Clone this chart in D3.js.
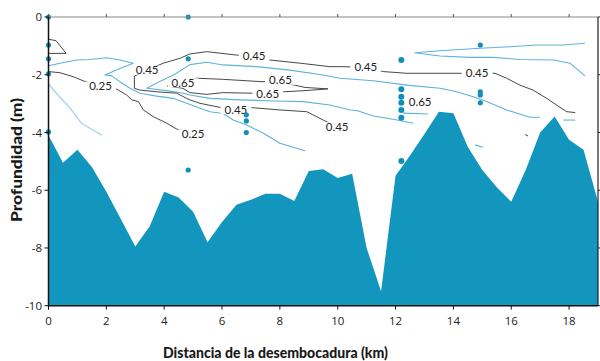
<!DOCTYPE html>
<html><head><meta charset="utf-8">
<script src="https://cdn.jsdelivr.net/npm/d3@7"></script>
<style>body{margin:0;background:#fff}svg{display:block}</style>
</head><body>
<svg id="c" width="600" height="361"></svg>
<script>
// ---------- data ----------
const xTicks = [0,2,4,6,8,10,12,14,16,18];
const yTicks = [0,-2,-4,-6,-8,-10];
const xTitle = "Distancia de la desembocadura (km)";
const yTitle = "Profundidad (m)";

const bathyX = [0,0.5,1,1.5,2,2.5,3,3.5,4,4.5,5,5.5,6,6.5,7,7.5,8,8.5,9,9.5,10,10.5,11,11.5,12,12.5,13,13.5,14,14.5,15,15.5,16,16.5,17,17.5,18,18.5,19];
const bathyDepth = [-4.1,-5.05,-4.6,-5.2,-6.05,-7.0,-7.95,-7.25,-6.05,-6.25,-6.75,-7.8,-7.1,-6.5,-6.33,-6.12,-6.12,-6.37,-5.33,-5.27,-5.58,-5.43,-8.0,-9.5,-5.5,-4.8,-4.05,-3.28,-3.33,-4.5,-5.3,-5.9,-6.4,-5.3,-4.0,-3.45,-4.25,-4.6,-6.4];

const stationX = [0, 4.83, 6.84, 12.2, 14.93];
const stationDepths = [
  [0,-0.97,-1.45,-1.97,-3.98],
  [0,-1.45,-5.3],
  [-3.39,-3.6,-4.0],
  [-1.49,-2.5,-2.76,-2.97,-3.22,-3.49,-4.99],
  [-0.97,-2.59,-2.7,-2.97]
];

// black contours (labelled)
const contourSurface = [[0,-0.77],[0.26,-0.82],[0.61,-1.26],[0,-1.26]];
const contour025 = [[0,-1.89],[0.40,-1.93],[0.86,-2.07],[1.20,-2.21],[1.80,-2.39],[2.36,-2.50],[2.70,-2.70],[2.88,-2.87],[3.11,-2.93],[3.28,-3.22],[3.62,-3.45],[4.09,-3.68],[4.43,-3.88],[5.0,-4.05]];
const contour045 = [[18.21,-3.31],[17.92,-3.28],[17.57,-3.05],[17.23,-2.82],[16.75,-2.53],[16.30,-2.36],[15.84,-2.12],[15.44,-1.95],[14.82,-1.95],[14.29,-1.95],[12.39,-1.95],[11.57,-1.89],[10.97,-1.74],[10.08,-1.72],[9.73,-1.72],[8.70,-1.60],[7.66,-1.49],[7.11,-1.35],[6.51,-1.32],[5.47,-1.20],[4.89,-1.28],[4.55,-1.43],[3.97,-1.60],[3.41,-1.84],[2.97,-2.05],[2.97,-2.47],[3.16,-2.53],[3.74,-2.59],[4.43,-2.64],[4.78,-2.82],[4.89,-2.87],[5.24,-2.99],[5.93,-3.13],[6.48,-3.20],[7.03,-3.14],[8.00,-3.22],[8.93,-3.28],[9.50,-3.57],[9.98,-3.80]];
const contour065 = [[4.10,-2.39],[4.65,-2.28],[5.12,-2.12],[6.04,-2.16],[7.38,-2.24],[7.97,-2.24],[8.87,-2.44],[9.66,-2.49],[8.87,-2.55],[7.62,-2.62],[7.08,-2.64],[6.04,-2.62],[5.47,-2.68],[4.89,-2.62],[4.65,-2.47],[4.10,-2.39]];
const blackSpeck = [[16.48,-4.07],[16.58,-4.12]];

// blue contours (unlabelled)
const blue035 = [[0,-1.69],[0.40,-1.60],[0.98,-1.49],[1.43,-1.47],[2.01,-1.41],[2.47,-1.49],[2.93,-1.60],[2.47,-1.78],[1.95,-2.01],[2.19,-2.04],[2.47,-2.24],[2.82,-2.47],[3.16,-2.64],[3.74,-2.74],[4.32,-2.82],[4.78,-2.99],[5.24,-3.16],[5.58,-3.28],[6.04,-3.34],[6.39,-3.57],[6.85,-3.74],[7.43,-4.03],[8.00,-4.37],[8.87,-4.63]];
const blue055 = [[16.99,-3.47],[16.65,-3.47],[15.84,-3.22],[15.15,-2.93],[14.69,-2.76],[14.11,-2.59],[13.54,-2.47],[12.39,-2.36],[11.23,-2.21],[10.08,-2.12],[9.50,-2.01],[8.35,-1.84],[7.20,-1.72],[6.04,-1.66],[5.47,-1.57],[4.89,-1.65],[4.37,-1.98],[3.85,-2.23],[3.40,-2.47],[4.09,-2.55],[4.66,-2.64],[4.89,-2.70],[5.58,-2.82],[6.62,-2.87],[7.77,-2.91],[8.81,-2.93],[9.73,-3.05],[10.43,-3.22],[10.66,-3.24],[11.23,-3.43],[11.92,-3.54],[12.61,-3.68]];
const blueTopRight = [[18.55,-2.04],[18.03,-1.60],[17.46,-1.49],[16.30,-1.47],[15.38,-1.40],[14.57,-1.40],[13.54,-1.35],[12.67,-1.24],[13.54,-1.17],[14.92,-1.08],[15.96,-1.03],[16.88,-0.97],[17.80,-0.97],[18.55,-0.91]];
const blueShortA = [[12.26,-3.33],[13.12,-3.36]];
const blueShortB = [[17.80,-3.57],[18.21,-3.57]];
const blueShortC = [[14.75,-4.43],[15.03,-4.51]];
const lightBlue015 = [[0,-2.32],[0.34,-2.72],[0.74,-3.15],[1.15,-3.69],[1.84,-4.09]];

const labelText = ["0.25","0.25","0.45","0.45","0.45","0.45","0.45","0.45","0.65","0.65","0.65","0.65"];
const labelX =    [1.80, 5.0, 3.41, 7.11, 10.97, 14.82, 6.48, 9.98, 4.65, 8.02, 7.58, 12.85];
const labelD =    [-2.39,-4.05,-1.84,-1.35,-1.74,-1.95,-3.20,-3.80,-2.28,-2.19,-2.67,-2.93];

// ---------- drawing ----------
const svg = d3.select("#c");
const x = d3.scaleLinear().domain([0,19]).range([48.5,598]);
const y = d3.scaleLinear().domain([-10,0]).range([305.7,17]);

const fillCol = "#1296be", blueCol = "#5db3d8", lightCol = "#a8d4e7", dotCol = "#118fba";

const bathy = bathyX.map((v,i)=>[v,bathyDepth[i]]);
svg.append("path").datum(bathy)
  .attr("d", d3.area().x(d=>x(d[0])).y0(y(-10)).y1(d=>y(d[1])))
  .attr("fill", fillCol);

const line = d3.line().x(d=>x(d[0])).y(d=>y(d[1]));
function draw(pts, col, w){
  svg.append("path").datum(pts).attr("d", line)
    .attr("fill","none").attr("stroke",col).attr("stroke-width",w).attr("stroke-linejoin","round");
}
draw(lightBlue015, lightCol, 1.3);
[blue035, blue055, blueTopRight, blueShortA, blueShortB, blueShortC].forEach(p=>draw(p, blueCol, 1.1));
[contourSurface, contour025, contour045, contour065, blackSpeck].forEach(p=>draw(p, "#333", 0.9));

// contour labels
const lg = svg.append("g");
labelText.forEach((t,i)=>{
  const cx = x(labelX[i]), cy = y(labelD[i]);
  const txt = lg.append("text").attr("x",cx).attr("y",cy).attr("dy","0.36em")
    .attr("text-anchor","middle").attr("font-family","Lato, sans-serif")
    .attr("font-size",11.5).attr("fill","#222").text(t);
  const w = txt.node().getComputedTextLength();
  lg.insert("rect", "text").attr("x",cx-w/2-4).attr("y",cy-4.5).attr("width",w+8).attr("height",9).attr("fill","#fff");
});

// dots
stationX.forEach((sx,i)=>{
  stationDepths[i].forEach(d=>{
    svg.append("circle").attr("cx",x(sx)).attr("cy",y(d)).attr("r", i===3?3:2.6).attr("fill",dotCol);
  });
});

// frame
const x0 = x(0), x1 = x(19), yT = y(0), yB = y(-10);
svg.append("line").attr("x1",x0).attr("x2",x1).attr("y1",yT).attr("y2",yT).attr("stroke","#888").attr("stroke-width",1);
svg.append("line").attr("x1",x1).attr("x2",x1).attr("y1",yT).attr("y2",yB).attr("stroke","#222").attr("stroke-width",1.2);
xTicks.forEach(t=>{
  svg.append("line").attr("x1",x(t)).attr("x2",x(t)).attr("y1",yT).attr("y2",yT-3).attr("stroke","#555");
  svg.append("line").attr("x1",x(t)).attr("x2",x(t)).attr("y1",yB).attr("y2",yB+4).attr("stroke","#111");
  svg.append("text").attr("x",x(t)).attr("y",325).attr("text-anchor","middle")
    .attr("font-family","'Open Sans', sans-serif").attr("font-size",11.5).attr("fill","#222").text(t);
});
yTicks.forEach(t=>{
  svg.append("line").attr("x1",x0).attr("x2",x0-4).attr("y1",y(t)).attr("y2",y(t)).attr("stroke","#111");
  svg.append("line").attr("x1",x1).attr("x2",x1+3).attr("y1",y(t)).attr("y2",y(t)).attr("stroke","#222");
  svg.append("text").attr("x",42).attr("y",y(t)).attr("dy","0.36em").attr("text-anchor","end")
    .attr("font-family","'Open Sans', sans-serif").attr("font-size",11.5).attr("fill","#222").text(String(t).replace("\u2212","-"));
});
svg.append("line").attr("x1",x0).attr("x2",x0).attr("y1",yT).attr("y2",yB).attr("stroke","#111").attr("stroke-width",1.5);
svg.append("line").attr("x1",x0-0.75).attr("x2",x1).attr("y1",yB).attr("y2",yB).attr("stroke","#111").attr("stroke-width",1.5);

// titles
svg.append("text").attr("x",275.5).attr("y",358).attr("text-anchor","middle")
  .attr("font-family","Lato, sans-serif").attr("font-weight","900").attr("font-size",14.5).attr("fill","#1a1a1a")
  .attr("textLength",225).attr("lengthAdjust","spacingAndGlyphs").text(xTitle);
svg.append("text").attr("transform","translate(22,160) rotate(-90)").attr("text-anchor","middle")
  .attr("font-family","Lato, sans-serif").attr("font-weight","900").attr("font-size",14.5).attr("fill","#1a1a1a")
  .attr("textLength",124).attr("lengthAdjust","spacingAndGlyphs").text(yTitle);
</script>
</body></html>
